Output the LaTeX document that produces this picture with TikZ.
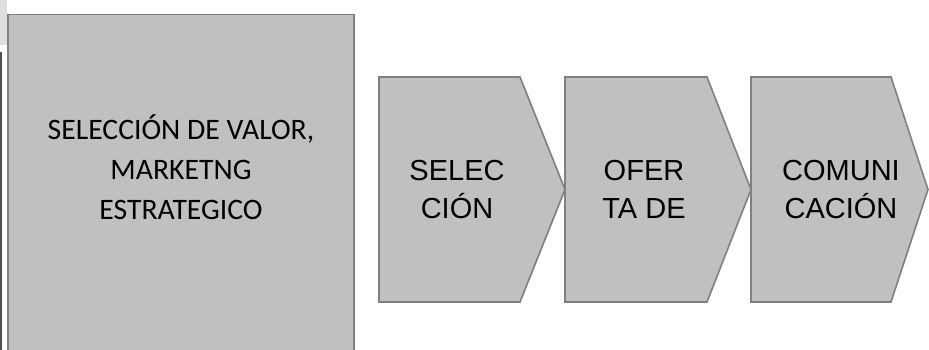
\documentclass[tikz,border=0pt]{standalone}
\usepackage{fontspec}
\setmainfont{Liberation Sans}
\newfontfamily\calibrifont{Carlito}
\definecolor{boxfill}{RGB}{192,192,192}
\definecolor{boxline}{RGB}{128,128,128}
\definecolor{striplight}{RGB}{222,222,222}
\definecolor{stripdark}{RGB}{80,80,80}
\tikzset{
  shapebox/.style={fill=boxfill, draw=boxline, line width=1.6pt, line join=miter},
  chevtext/.style={align=center, inner sep=0pt, text=black, font=\fontsize{29}{38}\selectfont},
  bigtext/.style={align=center, inner sep=0pt, text=black, font=\calibrifont\fontsize{29.7}{40}\selectfont},
}
\begin{document}
\begin{tikzpicture}[x=1pt,y=-1pt]
\useasboundingbox (0,0) rectangle (929,350);
\clip (0,0) rectangle (929,350);
% left edge strips
\fill[striplight] (0,0) rectangle (7,45);
\fill[stripdark] (0,52) rectangle (2.3,350);
% main box
\path[shapebox] (8,14.5) rectangle (354,370);
\node[bigtext] (valor) at (181,167.5) {SELECCIÓN DE VALOR,\\MARKETNG\\ESTRATEGICO};
% chevrons
\path[shapebox] (379,77) -- (520,77) -- (565,189.5) -- (520,302) -- (379,302) -- cycle;
\path[shapebox] (565,77) -- (707,77) -- (751,189.5) -- (707,302) -- (565,302) -- cycle;
\path[shapebox] (751,77) -- (891,77) -- (928,189.5) -- (891,302) -- (751,302) -- cycle;
\node[chevtext] (sel) at (457,189.5) {SELEC\\CIÓN};
\node[chevtext] (ofer) at (644,189.5) {OFER\\TA DE};
\node[chevtext] (com) at (841,189.5) {COMUNI\\CACIÓN};
\end{tikzpicture}
\end{document}
